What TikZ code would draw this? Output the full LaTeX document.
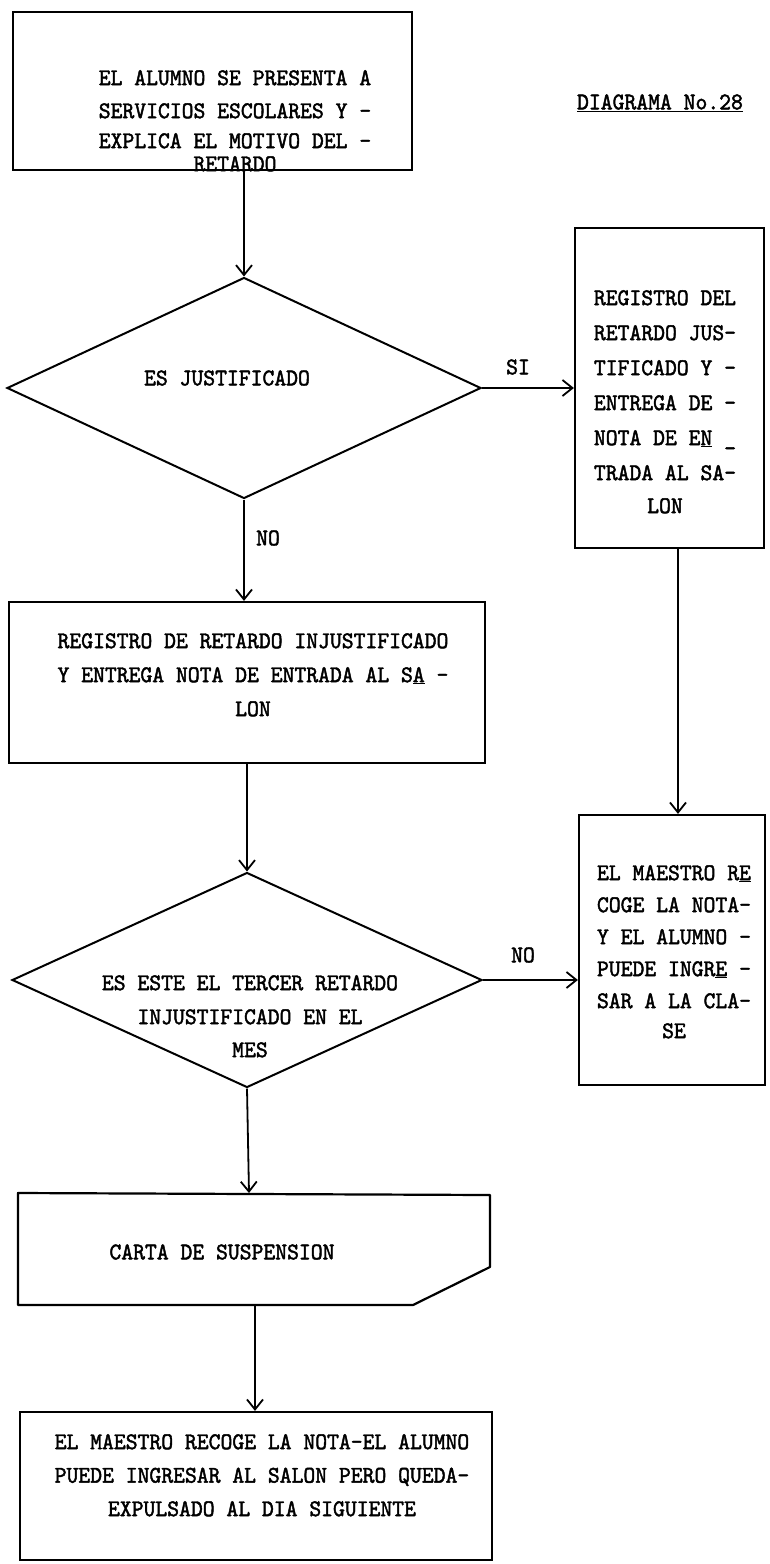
\documentclass[tikz,border=0pt]{standalone}
\usepackage{fontspec}
\setmonofont{lmmono10-regular}[Extension=.otf, FakeStretch=0.94, FakeBold=1.8]
\usetikzlibrary{arrows.meta,shapes.geometric,fit}
\newcommand\twfont[1]{\ttfamily\fontsize{24}{#1}\selectfont}
\begin{document}
\begin{tikzpicture}[x=1pt,y=-1pt,
  box/.style={draw, rectangle, line width=2.2pt, inner sep=0pt},
  decision/.style={draw, diamond, line width=2pt, inner sep=0pt},
  txt/.style={font=\twfont{33}, align=center, inner sep=0pt},
  lbl/.style={font=\twfont{24}, inner sep=0pt},
  conn/.style={line width=1.8pt, -{Straight Barb[length=10pt,width=16pt]}}]

% page frame
\useasboundingbox (0,0) rectangle (769,1564);

% process boxes
\node[box, fit={(13,12)(412,170)}] (start) {};
\node[box, fit={(575,228)(764,548)}] (just) {};
\node[box, fit={(9,602)(485,763)}] (injust) {};
\node[box, fit={(579,815)(765,1085)}] (enter) {};
\node[box, fit={(20,1412)(492,1560)}] (expel) {};

% decisions
\node[decision, minimum width=474pt, minimum height=221pt] (q1) at (244,388) {};
\node[decision, minimum width=470pt, minimum height=215pt] (q2) at (247,980) {};

% suspension letter (card with clipped corner)
\coordinate (c1) at (18,1193);
\coordinate (c2) at (490,1195);
\coordinate (c3) at (490,1267);
\coordinate (c4) at (413,1305);
\coordinate (c5) at (18,1305);
\draw[line width=2.2pt, line join=round] (c1) -- (c2) -- (c3) -- (c4) -- (c5) -- cycle;
\coordinate (cardin) at (249,1193);
\coordinate (cardout) at (255,1305);

% texts
\node[txt, anchor=north] (tstart) at (235,70)
  {EL ALUMNO SE PRESENTA A\\SERVICIOS ESCOLARES Y -\\[-3pt]EXPLICA EL MOTIVO DEL -\\[-10pt]RETARDO};
\node[txt, font=\twfont{35}, anchor=north] (tjust) at (665,290)
  {REGISTRO DEL\\RETARDO JUS-\\TIFICADO Y -\\ENTREGA DE -\\NOTA DE E\underline{N} \_\\TRADA AL SA-\\[-2pt]LON};
\node[txt, font=\twfont{34}, anchor=north] (tinjust) at (253,633)
  {REGISTRO DE RETARDO INJUSTIFICADO\\Y ENTREGA NOTA DE ENTRADA AL S\underline{A} -\\LON};
\node[txt, font=\twfont{32}, anchor=north] (tenter) at (674,865)
  {EL MAESTRO R\underline{E}\\COGE LA NOTA-\\Y EL ALUMNO -\\PUEDE INGR\underline{E} -\\SAR A LA CLA-\\[-2pt]SE};
\node[txt, font=\twfont{34}, anchor=north] (tq2) at (250,975)
  {ES ESTE EL TERCER RETARDO\\INJUSTIFICADO EN EL\\[-1pt]MES};
\node[txt] (tq1) at (227,378) {ES JUSTIFICADO};
\node[txt] (tcard) at (222,1252) {CARTA DE SUSPENSION};
\node[txt, font=\twfont{33.5}, anchor=north] (texpel) at (262,1434)
  {EL MAESTRO RECOGE LA NOTA-EL ALUMNO\\PUEDE INGRESAR AL SALON PERO QUEDA-\\EXPULSADO AL DIA SIGUIENTE};

% title
\node[lbl] (title) at (660,103) {\underline{DIAGRAMA No.28}};

% branch labels
\node[lbl] (si) at (518,367) {SI};
\node[lbl] (no1) at (268,538) {NO};
\node[lbl] (no2) at (523,955) {NO};

% connectors
\coordinate (vx) at (678,0);
\draw[conn] (q1.north |- start.south) -- (q1.north);
\draw[conn] (q1.east) -- (just.west |- q1.east);
\draw[conn] (q1.south) -- (q1.south |- injust.north);
\draw[conn] (just.south -| vx) -- (enter.north -| vx);
\draw[conn] (q2.north |- injust.south) -- (q2.north);
\draw[conn] (q2.east) -- (enter.west |- q2.east);
\draw[conn] (q2.south) -- (cardin);
\draw[conn] (cardout) -- (cardout |- expel.north);
\end{tikzpicture}
\end{document}
